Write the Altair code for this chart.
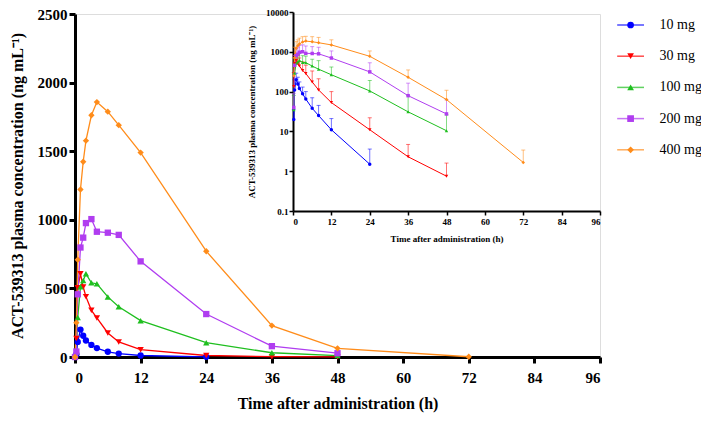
import altair as alt
import pandas as pd

# ---------------- data ----------------
times = [0, 0.25, 0.5, 1, 1.5, 2, 3, 4, 6, 8, 12, 24, 36, 48, 72]
doses = ["10 mg", "30 mg", "100 mg", "200 mg", "400 mg"]
keys = ["k1", "k2", "k3", "k4", "k5"]
colors = ["#0000ff", "#ff0000", "#1fbf1f", "#b03df0", "#ff8c1a"]
shapes = ["circle", "triangle-down", "triangle-up", "square", "diamond"]

conc_10 = [0, 20, 110, 200, 155, 120, 88, 65, 38, 25, 11, 1.5, None, None, None]
conc_30 = [0, 135, 505, 606, 510, 440, 340, 285, 175, 110, 53, 11, 2.3, 0.75, None]
conc_100 = [0, 35, 288, 512, 558, 606, 541, 534, 438, 366, 265, 104, 31, 10.4, None]
conc_200 = [0, 40, 457, 798, 870, 976, 1005, 913, 906, 890, 697, 313, 79, 27.5, None]
conc_400 = [0, 250, 709, 1221, 1423, 1577, 1762, 1858, 1788, 1690, 1490, 771, 229, 63, 1.66]

# mean + SD (upper end of the inset error bars)
upper_10 = [None, 35, 200, 290, 230, 175, 130, 100, 70, 45, 21, 3.6, None, None, None]
upper_30 = [None, 300, 800, 900, 800, 700, 560, 460, 330, 210, 100, 22, 4.7, 1.6, None]
upper_100 = [None, 80, 500, 800, 850, 900, 800, 780, 650, 600, 415, 190, 79, 26, None]
upper_200 = [None, 90, 800, 1200, 1300, 1450, 1500, 1400, 1350, 1300, 1050, 530, 163, 62, None]
upper_400 = [None, 700, 1300, 1800, 2000, 2200, 2400, 2450, 2400, 2300, 2000, 1050, 350, 108, 3.4]

main_x_ticks = [0, 12, 24, 36, 48, 60, 72, 84, 96]
main_y_ticks = [0, 500, 1000, 1500, 2000, 2500]
inset_y_ticks = [0.1, 1, 10, 100, 1000, 10000]

concs = [conc_10, conc_30, conc_100, conc_200, conc_400]
uppers = [upper_10, upper_30, upper_100, upper_200, upper_400]

rows = []
for d, k, cs, us in zip(doses, keys, concs, uppers):
    for t, c, u in zip(times, cs, us):
        if c is None:
            continue
        rows.append({"dose": d, "k": k, "t": t, "c": c, "u": u})
df = pd.DataFrame(rows)
df_inset = df[df["t"] > 0]

FONT = "Liberation Serif"
X_TITLE = "Time after administration (h)"
Y_TITLE = "ACT-539313 plasma concentration (ng mL\u207b\u00b9)"

stroke_scale = alt.Scale(domain=keys, range=colors)
fill_scale = alt.Scale(domain=doses, range=colors)
shape_scale = alt.Scale(domain=doses, range=shapes)

LEG_X = 548.6
LEG_Y = 4
LEG_SIZE = 45
LEG_FONT = 14
LEG_ROWPAD = 17.2
LEG_OFFSET = 22

line_legend = alt.Legend(orient="none", legendX=LEG_X, legendY=LEG_Y, title=None,
                         symbolType="M-4,0H4", symbolSize=LEG_SIZE, symbolStrokeWidth=1.5,
                         symbolOpacity=0.7, labelFont=FONT, labelFontSize=LEG_FONT,
                         labelExpr="' '", labelOffset=LEG_OFFSET, rowPadding=LEG_ROWPAD,
                         padding=0)
point_legend = alt.Legend(orient="none", legendX=LEG_X, legendY=LEG_Y, title=None,
                          symbolSize=LEG_SIZE, symbolOpacity=1, labelFont=FONT,
                          labelFontSize=LEG_FONT, labelColor="black", labelOffset=LEG_OFFSET,
                          rowPadding=LEG_ROWPAD, padding=0)

# ---------------- main chart ----------------
mx = alt.X("t:Q", scale=alt.Scale(domain=[0, 96], nice=False, zero=False),
           axis=alt.Axis(values=main_x_ticks, title=X_TITLE, grid=False,
                         domainColor="black", domainWidth=3, tickColor="black",
                         tickWidth=3, tickSize=6, labelFont=FONT, labelFontWeight="bold",
                         labelFontSize=15, labelColor="black", labelPadding=7,
                         titleFont=FONT, titleFontWeight="bold", titleFontSize=16,
                         titleColor="black", titlePadding=10))
my = alt.Y("c:Q", scale=alt.Scale(domain=[0, 2500], nice=False),
           axis=alt.Axis(values=main_y_ticks, title=Y_TITLE, grid=False, format="d",
                         domainColor="black", domainWidth=3, tickColor="black",
                         tickWidth=3, tickSize=6, labelFont=FONT, labelFontWeight="bold",
                         labelFontSize=15, labelColor="black", labelPadding=2,
                         titleFont=FONT, titleFontWeight="bold", titleFontSize=16,
                         titleColor="black", titlePadding=12))

main_line = alt.Chart(df).mark_line(strokeWidth=1.3).encode(
    x=mx, y=my, stroke=alt.Stroke("k:N", scale=stroke_scale, legend=line_legend),
    order="t:Q")
main_pts = alt.Chart(df).mark_point(filled=True, size=40, opacity=1).encode(
    x=mx, y=my,
    fill=alt.Fill("dose:N", scale=fill_scale, legend=point_legend),
    shape=alt.Shape("dose:N", scale=shape_scale, legend=point_legend))
main = alt.layer(main_line, main_pts)

# ---------------- inset (log scale) ----------------
ix = alt.X("t:Q", scale=alt.Scale(domain=[0, 96], range=[218, 525], nice=False, zero=False),
           axis=alt.Axis(values=main_x_ticks, title=X_TITLE, grid=False, orient="bottom",
                         offset=-146, domainColor="black", domainWidth=2, tickColor="black",
                         tickWidth=1.5, tickSize=4, labelFont=FONT, labelFontWeight="bold",
                         labelFontSize=9, labelColor="black", labelPadding=2,
                         titleFont=FONT, titleFontWeight="bold", titleFontSize=9,
                         titleColor="black", titlePadding=8))
iy = alt.Y("c:Q", scale=alt.Scale(type="log", domain=[0.1, 10000], range=[197, -2], nice=False),
           axis=alt.Axis(values=inset_y_ticks, title=Y_TITLE, grid=False, orient="left",
                         offset=-218, format="~g", domainColor="black", domainWidth=2,
                         tickColor="black", tickWidth=1.5, tickSize=4, labelFont=FONT,
                         labelFontWeight="bold", labelFontSize=9, labelColor="black",
                         labelPadding=1, titleFont=FONT, titleFontWeight="bold",
                         titleFontSize=9, titleColor="black", titlePadding=9))

err_rule = alt.Chart(df_inset).mark_rule(strokeWidth=1, opacity=0.55).encode(
    x=ix, y=iy, y2="u:Q", color=alt.Color("k:N", scale=stroke_scale, legend=None))
err_cap = alt.Chart(df_inset).mark_tick(orient="horizontal", size=4, thickness=1, opacity=0.55).encode(
    x=ix, y=alt.Y("u:Q"), color=alt.Color("k:N", scale=stroke_scale, legend=None))
inset_line = alt.Chart(df_inset).mark_line(strokeWidth=1).encode(
    x=ix, y=iy, stroke=alt.Stroke("k:N", scale=stroke_scale, legend=None), order="t:Q")
inset_pts = alt.Chart(df_inset).mark_point(filled=True, size=12, opacity=1).encode(
    x=ix, y=iy,
    fill=alt.Fill("dose:N", scale=fill_scale, legend=None),
    shape=alt.Shape("dose:N", scale=shape_scale, legend=None))
inset = alt.layer(err_rule, err_cap, inset_line, inset_pts)

chart = alt.layer(main, inset).resolve_scale(x="independent", y="independent").properties(
    width=525, height=343,
    autosize=alt.AutoSizeParams(type="none"),
    padding={"left": 67, "top": 6, "right": 101, "bottom": 56},
).configure_view(stroke=None).configure(background="white")

chart.save("out.html", embed_options={"renderer": "svg", "actions": False})
